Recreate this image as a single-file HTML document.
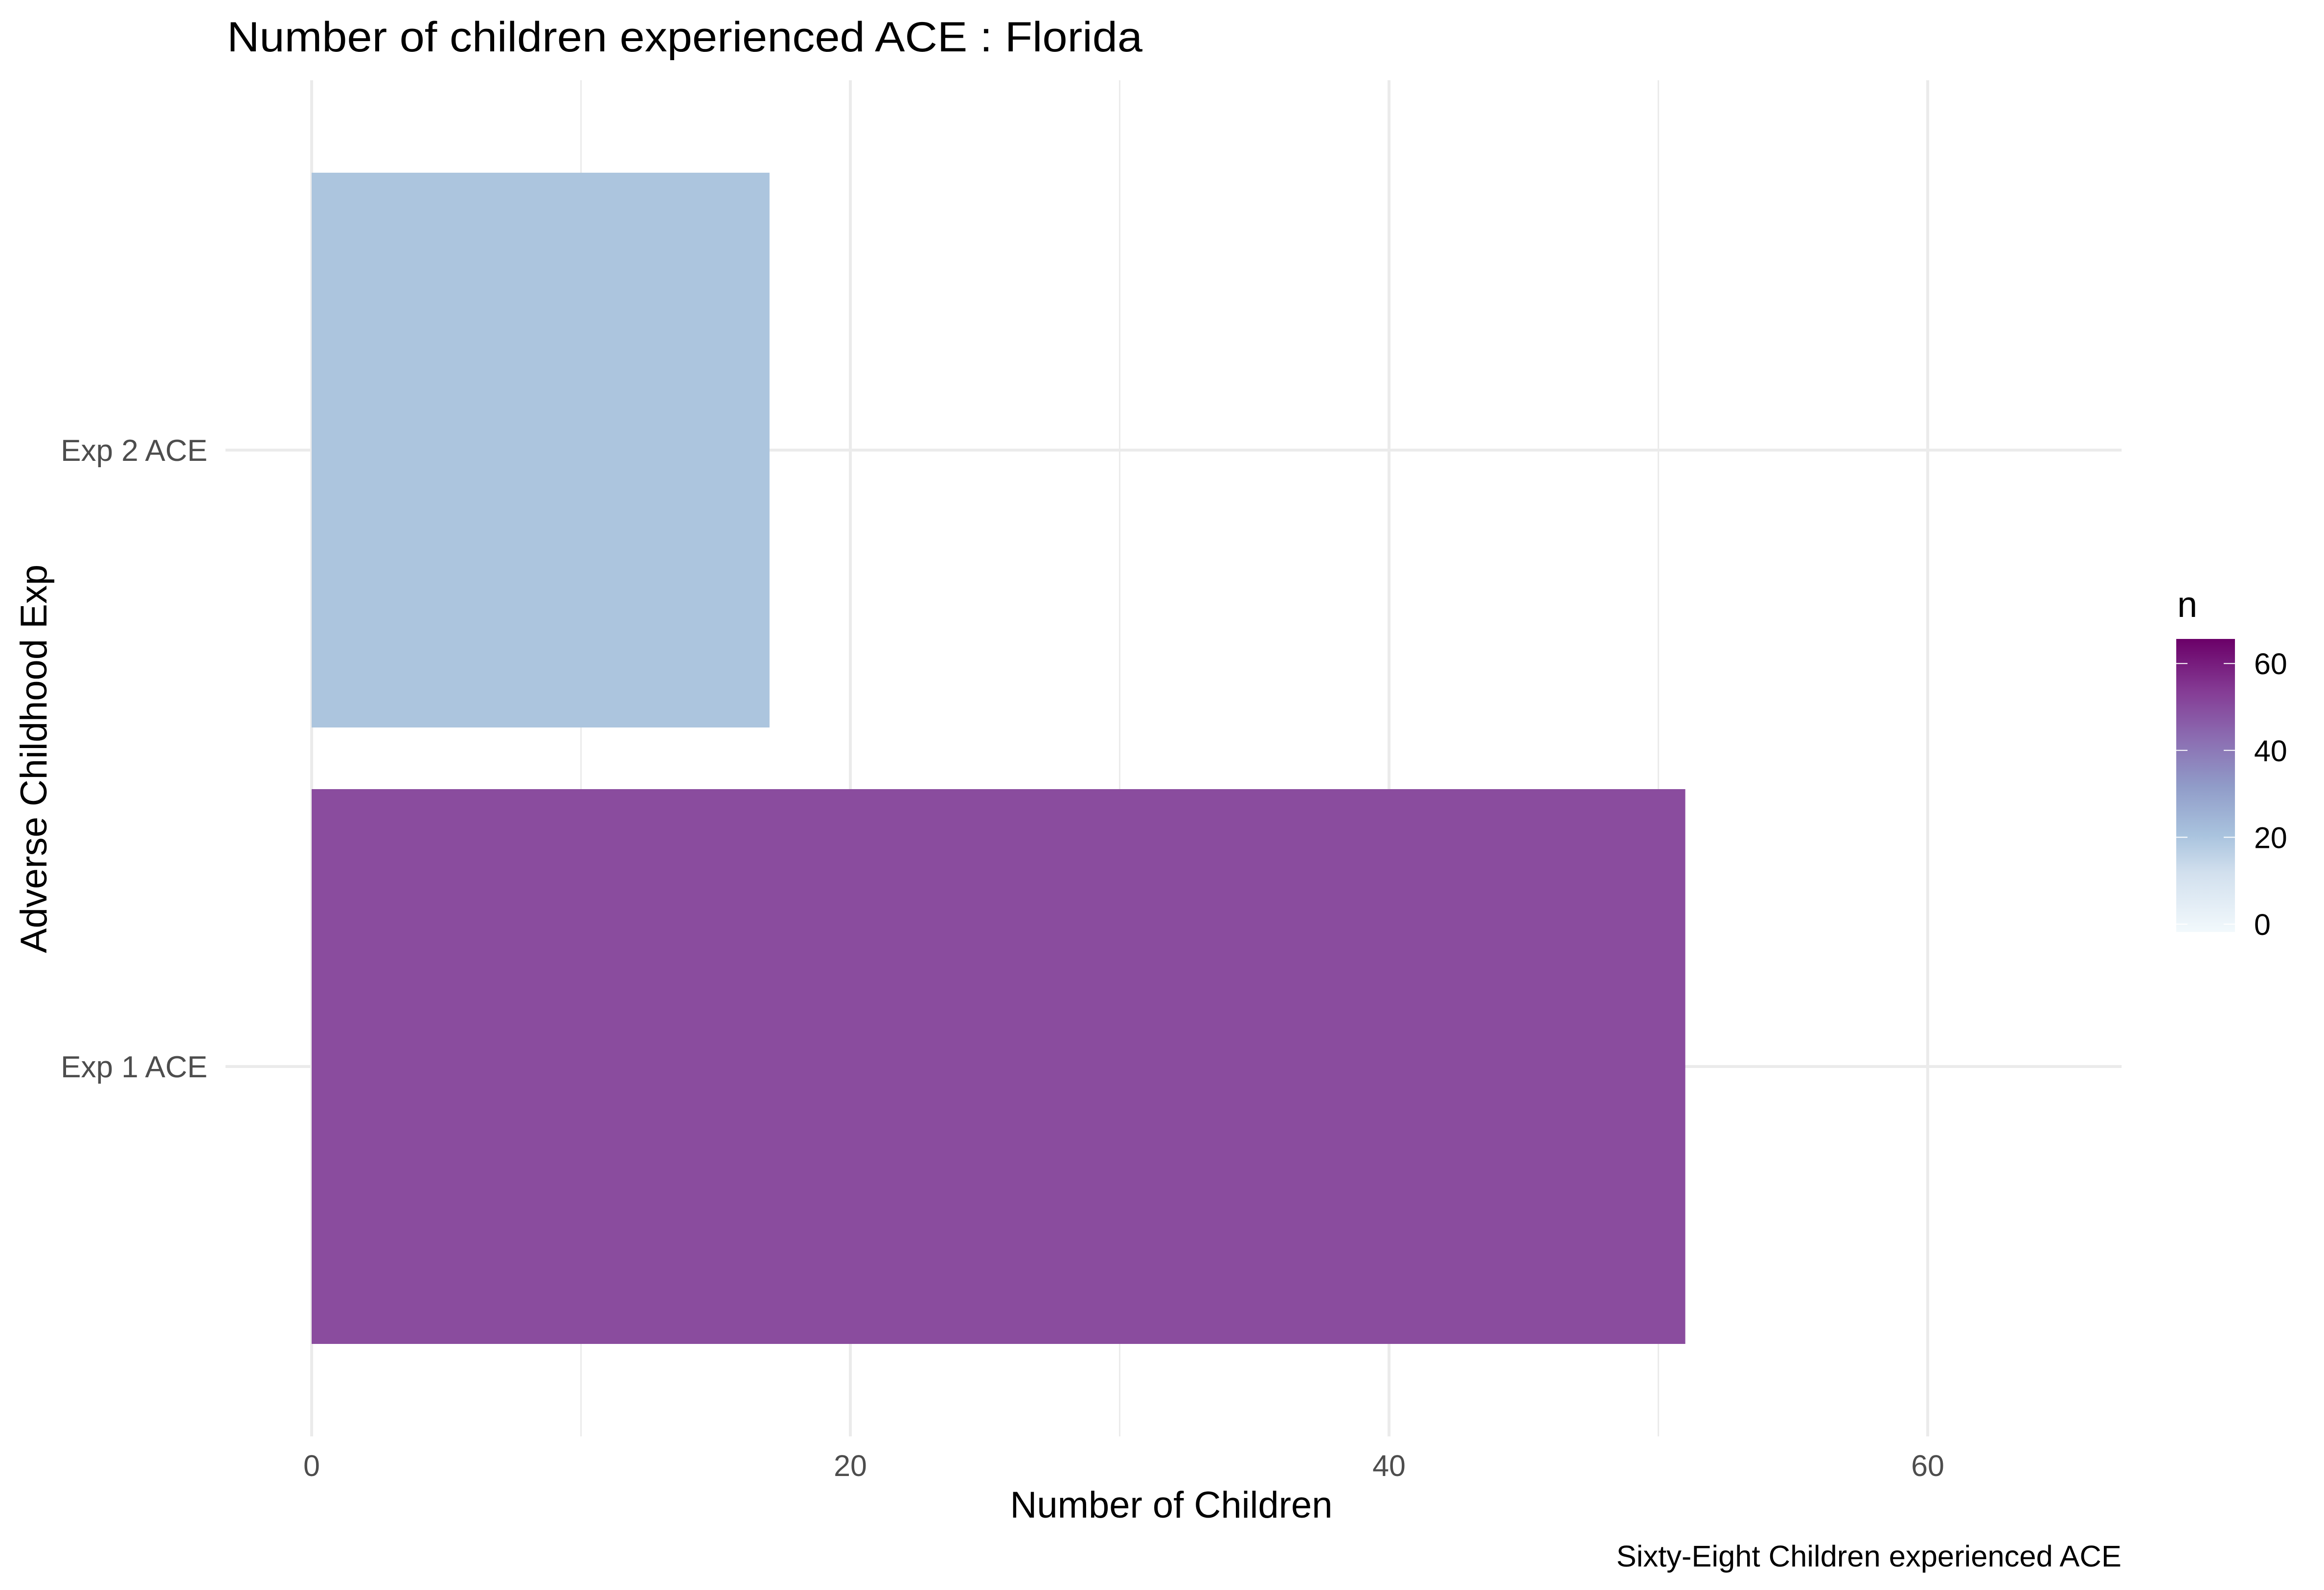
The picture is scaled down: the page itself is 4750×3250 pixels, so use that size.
<!DOCTYPE html>
<html><head><meta charset="utf-8"><style>
html,body{margin:0;padding:0;background:#fff;}
svg{display:block;font-family:"Liberation Sans",Arial,sans-serif;}
</style></head><body>
<svg id="chart" width="4750" height="3250" viewBox="0 0 4750 3250" xmlns="http://www.w3.org/2000/svg">
<defs>
<linearGradient id="bupu" x1="0" y1="1" x2="0" y2="0">
<stop offset="0" stop-color="#f2f9fc"/>
<stop offset="0.2" stop-color="#d2e0ee"/>
<stop offset="0.33" stop-color="#a9c3de"/>
<stop offset="0.5" stop-color="#909bc8"/>
<stop offset="0.67" stop-color="#8b6ab0"/>
<stop offset="0.82" stop-color="#853c95"/>
<stop offset="1" stop-color="#6b0068"/>
</linearGradient>
</defs>
<rect x="0" y="0" width="4750" height="3250" fill="#fff"/>
<text x="464" y="105" font-size="86" fill="#000" textLength="1871" lengthAdjust="spacingAndGlyphs">Number of children experienced ACE : Florida</text>
<g id="grid"></g>
<g id="bars"></g>
<g id="yticks"></g>
<g id="xticks"></g>
<text x="2394" y="3102" font-size="76" text-anchor="middle" fill="#000">Number of Children</text>
<text transform="translate(95,1551) rotate(-90)" font-size="76" text-anchor="middle" fill="#000">Adverse Childhood Exp</text>
<text x="4336" y="3202" font-size="61.5" text-anchor="end" fill="#000">Sixty-Eight Children experienced ACE</text>
<g>
<text x="4450" y="1261" font-size="74" fill="#000">n</text>
<rect x="4448" y="1306" width="120" height="599" fill="url(#bupu)"/>
<g id="legticks"></g>
</g>
</svg>
<script>
const categories = ["Exp 1 ACE", "Exp 2 ACE"];
const values = [51, 17];
const barColors = ["#8a4c9e", "#acc5de"];
const xMajorTicks = [0, 20, 40, 60];
const xMinorTicks = [10, 30, 50];
const legendTicks = [0, 20, 40, 60];

const NS = "http://www.w3.org/2000/svg";
const X0 = 637, XU = 55.05;
function xs(v){ return X0 + v * XU; }
const YU = 1260, Y1 = 2180;
function ys(i){ return Y1 - i * YU; }
const panelTop = 164, panelBottom = 2936, panelLeft = xs(-3.2), panelRight = xs(67.2);
function lg(v){ return 1889 - v * 8.88; }

function mk(tag, attrs, parent){
  const e = document.createElementNS(NS, tag);
  for (const k in attrs) e.setAttribute(k, attrs[k]);
  parent.appendChild(e);
  return e;
}
const grid = document.getElementById('grid');
xMinorTicks.forEach(v => {
  const l = mk('line', {x1: xs(v), x2: xs(v), y1: panelTop, y2: panelBottom, stroke: '#ebebeb', 'stroke-width': 3}, grid);
  
  
});
xMajorTicks.forEach(v => {
  const l = mk('line', {x1: xs(v), x2: xs(v), y1: panelTop, y2: panelBottom, stroke: '#ebebeb', 'stroke-width': 6}, grid);
  
  
});
categories.forEach((c, i) => {
  const l = mk('line', {x1: panelLeft, x2: panelRight, y1: ys(i), y2: ys(i), stroke: '#ebebeb', 'stroke-width': 6}, grid);
  
  
});
const bars = document.getElementById('bars');
categories.forEach((c, i) => {
  const r = mk('rect', {x: xs(0), y: ys(i) - 0.45 * YU, width: xs(values[i]) - xs(0), height: 0.9 * YU, fill: barColors[i]}, bars);
  
  
});
const yt = document.getElementById('yticks');
categories.forEach((c, i) => {
  const t = mk('text', {x: 424, y: ys(i) + 22, 'font-size': 62, 'text-anchor': 'end', fill: '#4d4d4d'}, yt);
  t.textContent = c;
  
  
});
const xt = document.getElementById('xticks');
xMajorTicks.forEach(v => {
  const t = mk('text', {x: xs(v), y: 3017, 'font-size': 61, 'text-anchor': 'middle', fill: '#4d4d4d'}, xt);
  t.textContent = String(v);
  
  
});
const lt = document.getElementById('legticks');
legendTicks.forEach(v => {
  const a = mk('line', {x1: 4448, x2: 4471, y1: lg(v), y2: lg(v), stroke: '#fff', 'stroke-width': 2}, lt);
  
  
  const b = mk('line', {x1: 4545, x2: 4568, y1: lg(v), y2: lg(v), stroke: '#fff', 'stroke-width': 2}, lt);
  
  
  const t = mk('text', {x: 4607, y: lg(v) + 22, 'font-size': 61, fill: '#000'}, lt);
  t.textContent = String(v);
  
  
});
</script>
</body></html>
